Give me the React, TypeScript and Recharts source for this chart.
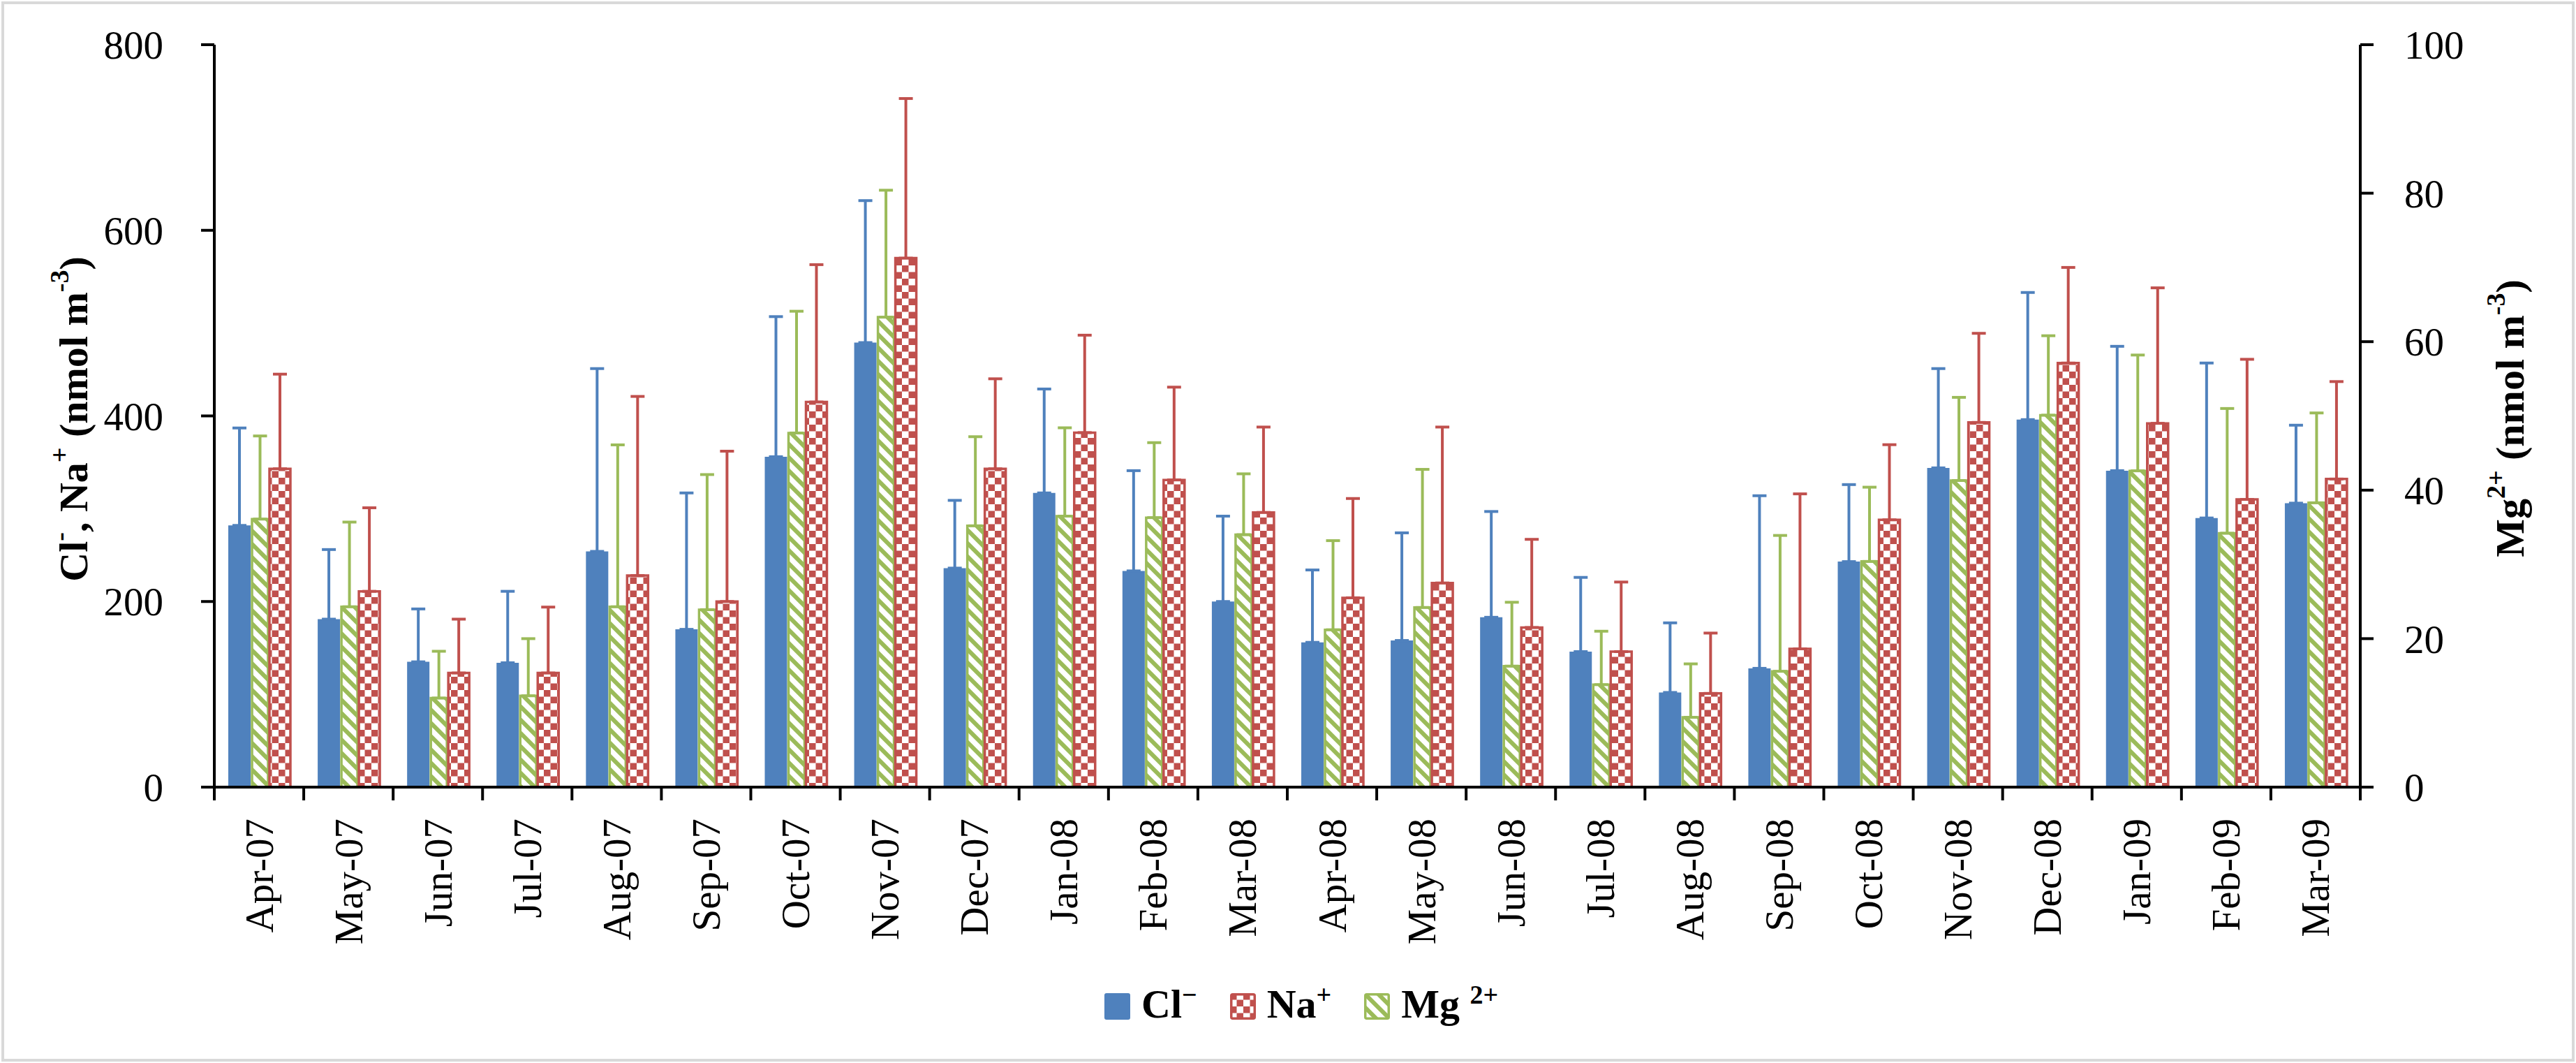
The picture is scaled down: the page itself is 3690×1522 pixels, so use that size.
import React from 'react';
import { BarChart, Bar, XAxis, YAxis, ErrorBar, Legend } from 'recharts';

const MONTHS = ['Apr-07', 'May-07', 'Jun-07', 'Jul-07', 'Aug-07', 'Sep-07', 'Oct-07', 'Nov-07', 'Dec-07', 'Jan-08', 'Feb-08', 'Mar-08', 'Apr-08', 'May-08', 'Jun-08', 'Jul-08', 'Aug-08', 'Sep-08', 'Oct-08', 'Nov-08', 'Dec-08', 'Jan-09', 'Feb-09', 'Mar-09'];

// Cl- (nmol m-3), left axis
const CL = [282, 181, 135, 134, 254, 170, 356, 479, 236, 317, 233, 200, 156, 158, 183, 146, 102, 128, 243, 344, 396, 341, 290, 306];
const CL_ERR = [105, 75, 57, 77, 197, 147, 151, 153, 73, 112, 108, 92, 78, 116, 114, 80, 75, 186, 83, 107, 137, 134, 167, 84];

// Na+ (nmol m-3), left axis
const NA = [343, 211, 123, 123, 228, 200, 415, 570, 343, 382, 331, 296, 204, 220, 172, 146, 101, 149, 288, 393, 457, 392, 310, 332];
const NA_ERR = [102, 90, 58, 71, 193, 162, 148, 172, 97, 105, 100, 92, 107, 168, 95, 75, 65, 167, 81, 96, 103, 146, 151, 105];

// Mg2+ (nmol m-3), right axis
const MG = [36.1, 24.3, 12.0, 12.3, 24.3, 23.9, 47.7, 63.3, 35.2, 36.5, 36.3, 34.0, 21.2, 24.2, 16.3, 13.8, 9.4, 15.6, 30.4, 41.3, 50.1, 42.6, 34.2, 38.3];
const MG_ERR = [11.2, 11.4, 6.3, 7.7, 21.8, 18.2, 16.4, 17.1, 12.0, 11.9, 10.1, 8.2, 12.0, 18.6, 8.6, 7.2, 7.2, 18.3, 10.0, 11.2, 10.7, 15.6, 16.8, 12.1];

const LEFT_TICKS = [0, 200, 400, 600, 800];
const RIGHT_TICKS = [0, 20, 40, 60, 80, 100];

const data = MONTHS.map((month, i) => ({
  month,
  cl: CL[i],
  clErr: [0, CL_ERR[i]],
  mg: MG[i],
  mgErr: [0, MG_ERR[i]],
  na: NA[i],
  naErr: [0, NA_ERR[i]],
}));

const BLUE = '#4f81bd';
const RED = '#c0504d';
const GREEN = '#9bbb59';
const FONT = '"Liberation Serif", "Times New Roman", serif';

const W = 3690;
const H = 1522;
const M = { top: 64, right: 159, bottom: 95, left: 157 };
const PLOT_W = W - M.left - M.right - 300;
const BAND = PLOT_W / MONTHS.length;

const XTick = (props: any) => {
  const { x, y, payload } = props;
  const half = payload && typeof payload.offset === 'number' && payload.offset > 0 ? payload.offset : BAND / 2;
  const isLast = payload && payload.value === MONTHS[MONTHS.length - 1];
  const ty = y + 45;
  return (
    <g>
      <line x1={x - half} x2={x - half} y1={y} y2={y + 19} stroke="#000" strokeWidth={4} />
      {isLast && <line x1={x + half} x2={x + half} y1={y} y2={y + 19} stroke="#000" strokeWidth={4} />}
      <text
        x={x}
        y={ty}
        transform={`rotate(-90, ${x}, ${ty})`}
        textAnchor="end"
        dominantBaseline="central"
        fontFamily={FONT}
        fontSize={57}
        fill="#000"
      >
        {payload.value}
      </text>
    </g>
  );
};

const SUP = 38;
const SHIFT = 20;

const renderLeftTitle = () => {
  const x = 105;
  const y = 600;
  return (
    <text
      x={x}
      y={y}
      transform={`rotate(-90, ${x}, ${y})`}
      textAnchor="middle"
      dominantBaseline="central"
      fontFamily={FONT}
      fontSize={58}
      fontWeight="bold"
      fill="#000"
    >
      <tspan>Cl</tspan>
      <tspan dy={-SHIFT} fontSize={SUP}>-</tspan>
      <tspan dy={SHIFT}>{', Na'}</tspan>
      <tspan dy={-SHIFT} fontSize={SUP}>+</tspan>
      <tspan dy={SHIFT}>{' (nmol m'}</tspan>
      <tspan dy={-SHIFT} fontSize={SUP}>-3</tspan>
      <tspan dy={SHIFT}>)</tspan>
    </text>
  );
};

const renderRightTitle = () => {
  const x = 3595;
  const y = 599;
  return (
    <text
      x={x}
      y={y}
      transform={`rotate(-90, ${x}, ${y})`}
      textAnchor="middle"
      dominantBaseline="central"
      fontFamily={FONT}
      fontSize={58}
      fontWeight="bold"
      fill="#000"
    >
      <tspan>Mg</tspan>
      <tspan dy={-SHIFT} fontSize={SUP}>2+</tspan>
      <tspan dy={SHIFT}>{' (nmol m'}</tspan>
      <tspan dy={-SHIFT} fontSize={SUP}>-3</tspan>
      <tspan dy={SHIFT}>)</tspan>
    </text>
  );
};

const CELL = 9.5;

const NaPattern = ({ id }: { id: string }) => (
  <pattern id={id} patternUnits="userSpaceOnUse" width={CELL * 2} height={CELL * 2}>
    <rect width={CELL * 2} height={CELL * 2} fill="#fff" />
    <rect x={0} y={0} width={CELL} height={CELL} fill={RED} />
    <rect x={CELL} y={CELL} width={CELL} height={CELL} fill={RED} />
  </pattern>
);

const MgPattern = ({ id }: { id: string }) => (
  <pattern id={id} patternUnits="userSpaceOnUse" width={19} height={19}>
    <rect width={19} height={19} fill="#fff" />
    <path d="M0,0 L19,19 M-9.5,9.5 L9.5,28.5 M9.5,-9.5 L28.5,9.5" stroke={GREEN} strokeWidth={6} />
  </pattern>
);

const Swatch = ({ kind }: { kind: 'cl' | 'na' | 'mg' }) => (
  <svg width={37} height={38} style={{ display: 'block' }}>
    <defs>
      <NaPattern id="naPatL" />
      <MgPattern id="mgPatL" />
    </defs>
    {kind === 'cl' && <rect x={0} y={0} width={37} height={38} rx={3} fill={BLUE} />}
    {kind === 'na' && (
      <rect x={1.75} y={1.75} width={33.5} height={34.5} rx={2} fill="url(#naPatL)" stroke={RED} strokeWidth={3.5} />
    )}
    {kind === 'mg' && (
      <rect x={1.75} y={1.75} width={33.5} height={34.5} rx={2} fill="url(#mgPatL)" stroke={GREEN} strokeWidth={3.5} />
    )}
  </svg>
);

const supStyle: React.CSSProperties = { fontSize: SUP, position: 'relative', top: -20 };

const LegendContent = () => (
  <div
    style={{
      display: 'flex',
      alignItems: 'center',
      fontFamily: FONT,
      fontWeight: 'bold',
      fontSize: 58,
      lineHeight: '60px',
      color: '#000',
      whiteSpace: 'nowrap',
    }}
  >
    <Swatch kind="cl" />
    <span style={{ marginLeft: 16, marginRight: 47 }}>
      Cl<span style={supStyle}>&minus;</span>
    </span>
    <Swatch kind="na" />
    <span style={{ marginLeft: 16, marginRight: 47 }}>
      Na<span style={supStyle}>+</span>
    </span>
    <Swatch kind="mg" />
    <span style={{ marginLeft: 16 }}>
      Mg <span style={supStyle}>2+</span>
    </span>
  </div>
);

export default function App() {
  return (
    <div style={{ position: 'absolute', left: 0, top: 0, width: W, height: H, background: '#fff', overflow: 'hidden' }}>
      <BarChart width={W} height={H} data={data} margin={M} barGap={2}>
        <defs>
          <NaPattern id="naPat" />
          <MgPattern id="mgPat" />
        </defs>
        <Bar yAxisId="left" dataKey="cl" name="Cl-" barSize={32} fill={BLUE} isAnimationActive={false}>
          <ErrorBar dataKey="clErr" width={10} strokeWidth={4} stroke={BLUE} direction="y" isAnimationActive={false} />
        </Bar>
        <Bar yAxisId="right" dataKey="mg" name="Mg 2+" barSize={23} fill="url(#mgPat)" stroke={GREEN} strokeWidth={3.5} isAnimationActive={false}>
          <ErrorBar dataKey="mgErr" width={10} strokeWidth={4} stroke={GREEN} direction="y" isAnimationActive={false} />
        </Bar>
        <Bar yAxisId="left" dataKey="na" name="Na+" barSize={30} fill="url(#naPat)" stroke={RED} strokeWidth={3.5} isAnimationActive={false}>
          <ErrorBar dataKey="naErr" width={10} strokeWidth={4} stroke={RED} direction="y" isAnimationActive={false} />
        </Bar>
        <XAxis
          dataKey="month"
          height={300}
          interval={0}
          tickLine={false}
          tickSize={0}
          tickMargin={0}
          axisLine={{ stroke: '#000', strokeWidth: 4 }}
          tick={<XTick />}
        />
        <YAxis
          yAxisId="left"
          orientation="left"
          width={150}
          domain={[0, 800]}
          ticks={LEFT_TICKS}
          allowDataOverflow
          interval={0}
          tickSize={19}
          tickMargin={54}
          axisLine={{ stroke: '#000', strokeWidth: 4 }}
          tickLine={{ stroke: '#000', strokeWidth: 4 }}
          tick={{ fill: '#000', fontSize: 57, fontFamily: FONT }}
          label={renderLeftTitle}
        />
        <YAxis
          yAxisId="right"
          orientation="right"
          width={150}
          domain={[0, 100]}
          ticks={RIGHT_TICKS}
          allowDataOverflow
          interval={0}
          tickSize={19}
          tickMargin={44}
          axisLine={{ stroke: '#000', strokeWidth: 4 }}
          tickLine={{ stroke: '#000', strokeWidth: 4 }}
          tick={{ fill: '#000', fontSize: 57, fontFamily: FONT }}
          label={renderRightTitle}
        />
        <Legend
          verticalAlign="middle"
          align="center"
          layout="horizontal"
          content={<LegendContent />}
          wrapperStyle={{ left: 1582, top: 1408, width: 'auto', height: 'auto' }}
        />
      </BarChart>
      <div
        style={{
          position: 'absolute',
          left: 2,
          top: 2,
          width: W - 4,
          height: H - 4,
          border: '4px solid #d9d9d9',
          boxSizing: 'border-box',
          pointerEvents: 'none',
        }}
      />
    </div>
  );
}
